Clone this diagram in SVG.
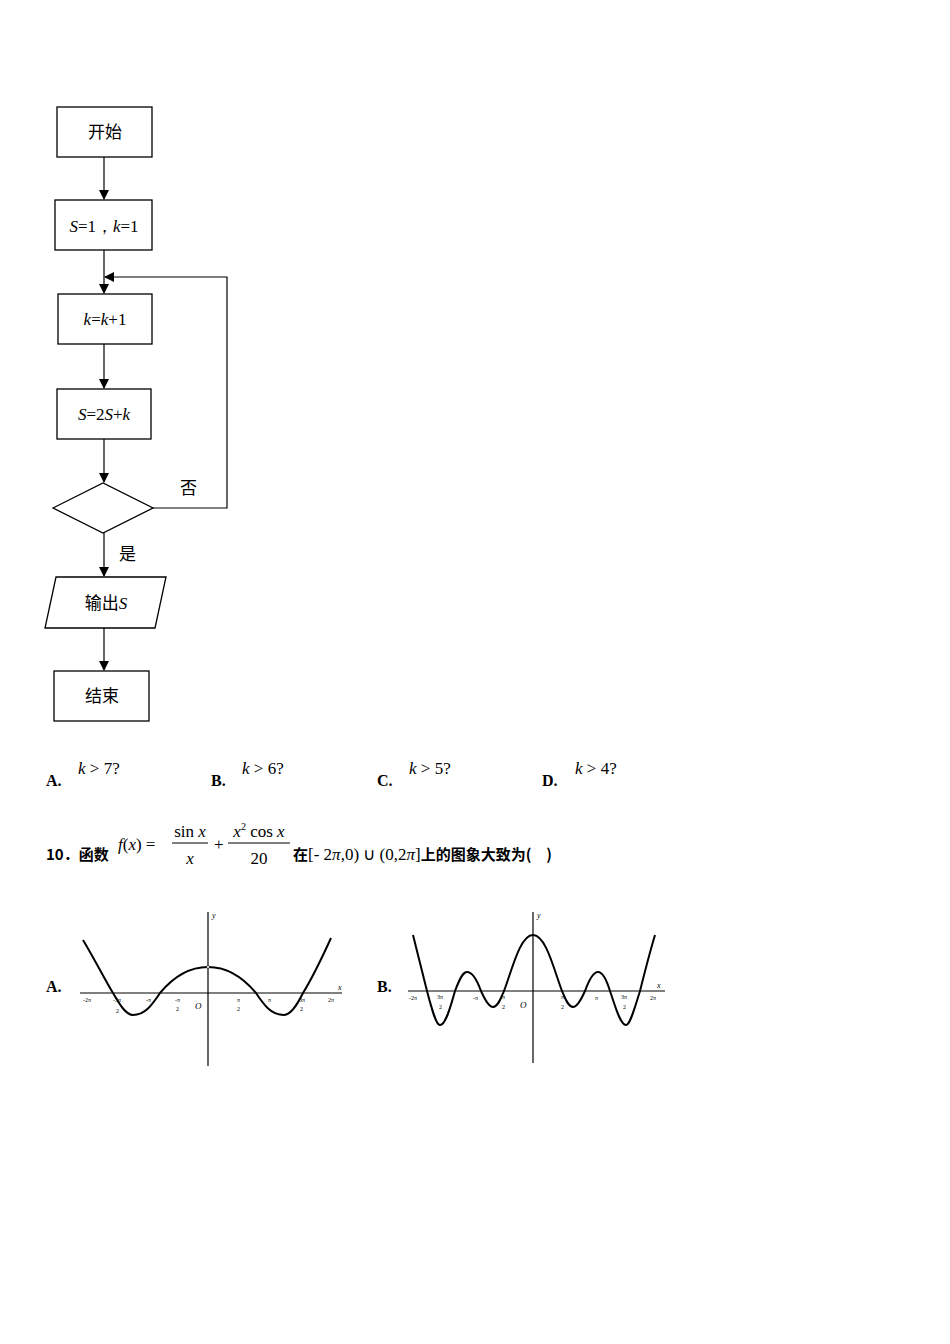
<svg xmlns="http://www.w3.org/2000/svg" width="950" height="1344" viewBox="0 0 950 1344">
<style>
.b{fill:#fff;stroke:#000;stroke-width:1.3}
.l{fill:none;stroke:#000;stroke-width:1.2}
.cn{font-family:"Noto Sans CJK SC","Noto Sans",sans-serif;font-size:17px}
.m{font-family:"Liberation Serif",serif;font-size:17px}
.bd{font-family:"Liberation Serif",serif;font-size:16px;font-weight:bold}
.q{font-family:"Noto Sans CJK SC",sans-serif;font-size:15px;font-weight:bold}
.t{font-family:"Liberation Serif",serif;font-size:6px}
.c{fill:none;stroke:#000;stroke-width:2}
</style>
<defs><marker id="a" markerWidth="10" markerHeight="10" refX="9" refY="5" orient="auto" markerUnits="userSpaceOnUse"><path d="M0,0L10,5L0,10z"/></marker></defs>
<rect width="950" height="1344" fill="#fff"/>
<g id="connectors">
<line class="l" x1="104" y1="157" x2="104" y2="199" marker-end="url(#a)"/>
<line class="l" x1="104" y1="250" x2="104" y2="293" marker-end="url(#a)"/>
<line class="l" x1="104" y1="344" x2="104" y2="388" marker-end="url(#a)"/>
<line class="l" x1="104" y1="439" x2="104" y2="482" marker-end="url(#a)"/>
<line class="l" x1="104" y1="533" x2="104" y2="576" marker-end="url(#a)"/>
<line class="l" x1="104" y1="628" x2="104" y2="670" marker-end="url(#a)"/>
<polyline class="l" points="153,508 227,508 227,277 105,277" marker-end="url(#a)"/>
<text class="cn" x="180" y="494">否</text>
<text class="cn" x="119" y="560">是</text>
</g>
<g id="start"><rect class="b" x="57" y="107" width="95" height="50"/><text class="cn" x="105" y="138" text-anchor="middle">开始</text></g>
<g id="init"><rect class="b" x="55" y="200" width="97" height="50"/><text class="m" x="104" y="232" text-anchor="middle"><tspan font-style="italic">S</tspan>=1，<tspan font-style="italic">k</tspan>=1</text></g>
<g id="inc"><rect class="b" x="58" y="294" width="94" height="50"/><text class="m" x="105" y="325" text-anchor="middle"><tspan font-style="italic">k</tspan>=<tspan font-style="italic">k</tspan>+1</text></g>
<g id="upd"><rect class="b" x="57" y="389" width="94" height="50"/><text class="m" x="104" y="420" text-anchor="middle"><tspan font-style="italic">S</tspan>=2<tspan font-style="italic">S</tspan>+<tspan font-style="italic">k</tspan></text></g>
<g id="cond"><polygon class="b" points="53,508 103,483 153,508 103,533"/></g>
<g id="out"><polygon class="b" points="56,577 166,577 155,628 45,628"/><text class="cn" x="106" y="609" text-anchor="middle">输出<tspan class="m" font-style="italic">S</tspan></text></g>
<g id="end"><rect class="b" x="54" y="671" width="95" height="50"/><text class="cn" x="102" y="702" text-anchor="middle">结束</text></g>
<g id="options">
<text class="bd" x="46" y="786">A.</text><text class="m" x="78" y="774"><tspan font-style="italic">k</tspan> &gt; 7?</text>
<text class="bd" x="211" y="786">B.</text><text class="m" x="242" y="774"><tspan font-style="italic">k</tspan> &gt; 6?</text>
<text class="bd" x="377" y="786">C.</text><text class="m" x="409" y="774"><tspan font-style="italic">k</tspan> &gt; 5?</text>
<text class="bd" x="542" y="786">D.</text><text class="m" x="575" y="774"><tspan font-style="italic">k</tspan> &gt; 4?</text>
</g>
<g id="q10">
<text class="q" x="46" y="860">10．函数</text>
<text class="m" x="118" y="850"><tspan font-style="italic">f</tspan>(<tspan font-style="italic">x</tspan>) =</text>
<text class="m" x="190" y="837" text-anchor="middle">sin <tspan font-style="italic">x</tspan></text>
<line x1="172" y1="843" x2="208" y2="843" stroke="#000" stroke-width="1"/>
<text class="m" x="190" y="864" text-anchor="middle" font-style="italic">x</text>
<text class="m" x="214" y="850">+</text>
<text class="m" x="259" y="837" text-anchor="middle"><tspan font-style="italic">x</tspan><tspan font-size="10" dy="-7">2</tspan><tspan dy="7"> cos </tspan><tspan font-style="italic">x</tspan></text>
<line x1="228" y1="843" x2="290" y2="843" stroke="#000" stroke-width="1"/>
<text class="m" x="259" y="864" text-anchor="middle">20</text>
<text class="q" x="293" y="860">在<tspan class="m" font-weight="normal">[- 2<tspan font-style="italic">π</tspan>,0) ∪ (0,2<tspan font-style="italic">π</tspan>]</tspan>上的图象大致为(　)</text>
</g>
<g id="graphA">
<text class="bd" x="46" y="992">A.</text>
<line class="l" x1="80" y1="993" x2="342" y2="993"/>
<line class="l" x1="208" y1="1066" x2="208" y2="912"/>
<path class="c" d="M83,940 C95,960 105,980 113,993 C120,1005 126,1015 133,1015 C145,1015 152,1005 160,993 C175,975 190,967 208,967 C226,967 241,975 256,993 C264,1005 271,1015 284,1015 C291,1015 297,1005 303,993 C311,980 321,960 331,938"/>
<circle cx="208" cy="967" r="1.5" fill="#fff" stroke="#000" stroke-width="0.6"/>
<g class="t"><text x="83" y="1002">-2π</text><text x="113" y="1002">-3π</text><text x="116" y="1013">2</text><text x="146" y="1002">-π</text><text x="175" y="1002">-π</text><text x="176" y="1011">2</text><text x="237" y="1002">π</text><text x="237" y="1011">2</text><text x="268" y="1002">π</text><text x="299" y="1002">3π</text><text x="300" y="1011">2</text><text x="328" y="1002">2π</text><text x="338" y="990" font-size="8" font-style="italic">x</text><text x="212" y="918" font-size="8" font-style="italic">y</text></g>
<text x="195" y="1009" font-family="Liberation Serif,serif" font-style="italic" font-size="9">O</text>
</g>
<g id="graphB">
<text class="bd" x="377" y="992">B.</text>
<line class="l" x1="408" y1="991" x2="665" y2="991"/>
<line class="l" x1="533" y1="1063" x2="533" y2="912"/>
<path class="c" d="M413,935 C418,955 423,975 427,991 C432,1010 436,1025 440,1025 C446,1025 451,1005 455,991 C460,978 463,972 467,972 C472,972 477,980 481,991 C485,1000 489,1007 493,1007 C498,1007 501,998 504,991 C512,970 520,935 533,935 C546,935 554,970 562,991 C565,998 568,1007 573,1007 C577,1007 581,1000 585,991 C589,980 594,972 598,972 C602,972 606,978 610,991 C615,1005 620,1025 626,1025 C630,1025 634,1010 640,991 C644,975 649,955 655,935"/>
<g class="t"><text x="409" y="1000">-2π</text><text x="437" y="999">3π</text><text x="439" y="1009">2</text><text x="473" y="1000">-π</text><text x="502" y="999">π</text><text x="502" y="1009">2</text><text x="561" y="999">π</text><text x="561" y="1009">2</text><text x="595" y="1000">π</text><text x="621" y="999">3π</text><text x="623" y="1009">2</text><text x="650" y="1000">2π</text><text x="657" y="988" font-size="8" font-style="italic">x</text><text x="537" y="918" font-size="8" font-style="italic">y</text></g>
<text x="520" y="1008" font-family="Liberation Serif,serif" font-style="italic" font-size="9">O</text>
</g>
</svg>
